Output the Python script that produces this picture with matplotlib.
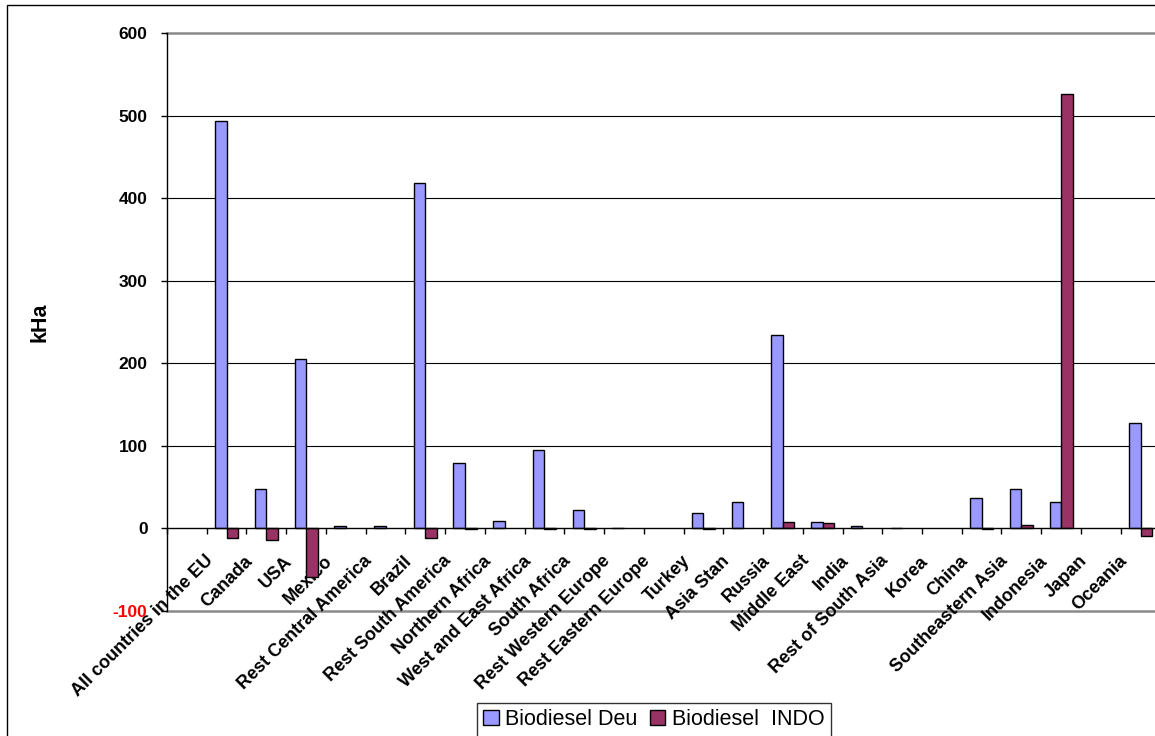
import numpy as np
import matplotlib
matplotlib.use("Agg")
import matplotlib.pyplot as plt
from matplotlib.patches import Rectangle, Patch
from matplotlib.transforms import ScaledTranslation

categories = ["All countries in the EU", "Canada", "USA", "Mexico", "Rest Central America",
              "Brazil", "Rest South America", "Northern Africa", "West and East Africa",
              "South Africa", "Rest Western Europe", "Rest Eastern Europe", "Turkey",
              "Asia Stan", "Russia", "Middle East", "India", "Rest of South Asia", "Korea",
              "China", "Southeastern Asia", "Indonesia", "Japan", "Oceania"]
nan = np.nan
biodiesel_deu = [494, 48, 205, 3, 3, 418, 79, 9, 95, 22, 1, nan, 19, 32, 234, 8, 3, 1, nan,
                 37, 48, 32, nan, 128]
biodiesel_indo = [-12, -14, -59, nan, nan, -12, -1, nan, -1, -1, nan, nan, -1, nan, 8, 6, nan,
                  nan, nan, -1, 4.5, 526, nan, -9]
series_names = ["Biodiesel Deu", "Biodiesel  INDO"]
yticks = [-100, 0, 100, 200, 300, 400, 500, 600]

W, H = 1155, 736
fig = plt.figure(figsize=(W / 100, H / 100), dpi=100)
font = ["Liberation Sans", "DejaVu Sans"]
plt.rcParams["font.family"] = font

left_px, right_px, top_px, bot_px = 167, 1160.4, 33, 611
ax = fig.add_axes([left_px / W, 1 - bot_px / H, (right_px - left_px) / W, (bot_px - top_px) / H])

n = len(categories)
centers = np.arange(n) + 1.5  # first slot is blank
bw = 0.29
c_deu = "#9999FF"
c_indo = "#993366"
ax.bar(centers - bw / 2, biodiesel_deu, width=bw, color=c_deu, edgecolor="black", linewidth=1, zorder=3)
ax.bar(centers + bw / 2, biodiesel_indo, width=bw, color=c_indo, edgecolor="black", linewidth=1, zorder=3)

ax.set_xlim(0, n + 1)
ax.set_ylim(-100, 600)

for s in ["top", "right"]:
    ax.spines[s].set_visible(False)
ax.spines["bottom"].set_position(("data", 0))
ax.spines["bottom"].set_linewidth(1)
ax.spines["bottom"].set_zorder(4)
ax.spines["left"].set_linewidth(1)

for v in [100, 200, 300, 400, 500]:
    ax.axhline(v, color="black", linewidth=0.8, zorder=1)
for v in [600, -100]:
    ax.axhline(v, color="#8a8a8a", linewidth=1.8, zorder=1, clip_on=False)

ax.set_yticks(yticks)
ax.set_yticklabels([str(t) for t in yticks], fontsize=12.5, fontweight="bold")
ax.get_yticklabels()[0].set_color("red")
ax.tick_params(axis="y", direction="out", length=4, width=1, pad=10)
ax.yaxis.set_zorder(5)
ax.xaxis.set_zorder(2)

ax.set_xticks(centers)
ax.set_xticklabels(categories, rotation=45, ha="right", va="center",
                   rotation_mode="anchor", fontsize=13, fontweight="bold")
ax.set_xticks(np.arange(0, n + 2), minor=True)
ax.tick_params(axis="x", which="major", length=0, pad=21.6)
ax.tick_params(axis="x", which="minor", length=4, width=1, direction="out")
off = ScaledTranslation(-16 / 100, 0, fig.dpi_scale_trans)
for lab in ax.get_xticklabels():
    lab.set_transform(lab.get_transform() + off)

fig.text(40 / W, 1 - 322 / H, "kHa", rotation=90, ha="center", va="center",
         fontsize=15.5, fontweight="bold")

handles = [Patch(facecolor=c_deu, edgecolor="black", linewidth=1),
           Patch(facecolor=c_indo, edgecolor="black", linewidth=1)]
leg = fig.legend(handles, series_names, loc="upper left",
                 bbox_to_anchor=(477 / W, 1 - 703 / H), ncol=2, frameon=True,
                 fancybox=False, edgecolor="black", fontsize=15.5, borderaxespad=0,
                 handlelength=0.7, handleheight=0.7, handletextpad=0.3,
                 columnspacing=0.6, borderpad=0.3)
leg.get_frame().set_linewidth(1)

fig.add_artist(Rectangle((7 / W, -0.1), 1.2, (1 - 5 / H) + 0.1, transform=fig.transFigure,
                         fill=False, edgecolor="black", linewidth=1))

fig.savefig("out.png", dpi=100)
